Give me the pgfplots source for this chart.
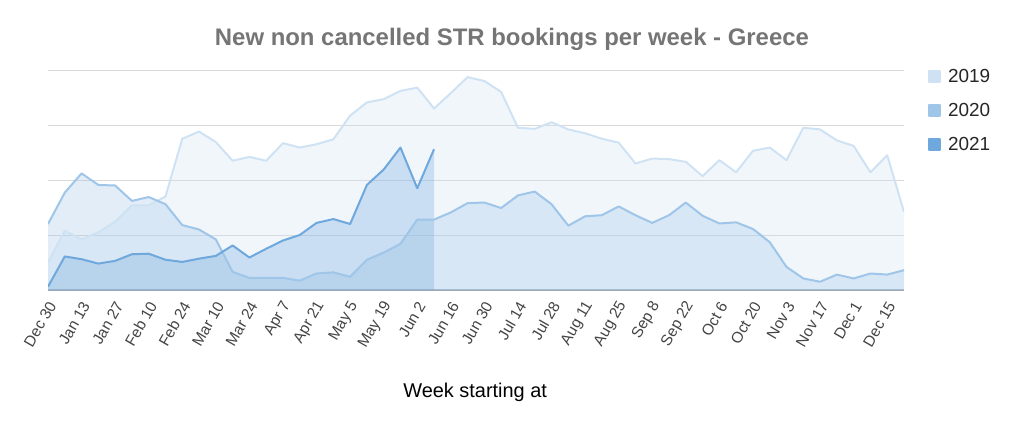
\documentclass[border=0pt]{standalone}
\usepackage{fontspec}
\setmainfont{Liberation Sans}
\usepackage{pgfplots}
\pgfplotsset{compat=1.18}
\usepackage{pgfplotstable}
\definecolor{c2019}{HTML}{CFE2F3}
\definecolor{c2020}{HTML}{9FC5E8}
\definecolor{c2021}{HTML}{6FA8DC}
\definecolor{titlegray}{HTML}{757575}
\definecolor{gridgray}{HTML}{D9D9D9}
\definecolor{basegray}{HTML}{9AA5B1}
\definecolor{ticktext}{HTML}{444444}

\pgfplotstableread{
x y19 y20
0 50 120
1 108 177
2 92 212
3 105 191
4 124 190
5 154 162
6 154 169
7 170 156
8 275 118
9 288 110
10 269 92
11 235 33
12 242 22
13 235 22
14 267 22
15 259 17
16 265 30
17 274 32
18 317 24
19 341 55
20 347 68
21 362 84
22 368 128
23 330 128
24 358 141
25 387 158
26 380 159
27 360 149
28 295 172
29 293 179
30 305 156
31 292 117
32 285 134
33 275 136
34 268 152
35 230 136
36 239 122
37 238 136
38 233 159
39 207 135
40 236 121
41 214 123
42 253 111
43 259 87
44 236 42
45 295 21
46 292 15
47 272 28
48 262 21
49 214 30
50 245 28
51 142 36
}\dataA

\pgfplotstableread{
x y21
0 6
1 61
2 56
3 48
4 53
5 65
6 66
7 55
8 51
9 57
10 62
11 81
12 59
13 75
14 90
15 100
16 122
17 129
18 120
19 191
20 219
21 259
22 185
23 256
}\dataB

\begin{document}
\begin{tikzpicture}
\path[use as bounding box] (-48bp,-133bp) rectangle (976bp,290bp);
\begin{axis}[
  at={(0,0)}, anchor=south west,
  scale only axis, width=856bp, height=220bp,
  xmin=0, xmax=51, ymin=0, ymax=400,
  axis line style={draw=none},
  ytick={100,200,300,400}, yticklabels={},
  extra y ticks={0}, extra y tick labels={},
  extra y tick style={grid style={color=basegray, line width=1.2bp}},
  ymajorgrids, grid style={color=gridgray, line width=1bp},
  major tick length=0,
  xtick={0,2,...,50},
  xticklabels={Dec 30,Jan 13,Jan 27,Feb 10,Feb 24,Mar 10,Mar 24,Apr 7,Apr 21,May 5,May 19,Jun 2,Jun 16,Jun 30,Jul 14,Jul 28,Aug 11,Aug 25,Sep 8,Sep 22,Oct 6,Oct 20,Nov 3,Nov 17,Dec 1,Dec 15},
  xticklabel style={xshift=6bp, yshift=-10bp, rotate=60, anchor=east, font=\fontsize{15.5}{17}\selectfont, text=ticktext},
  title={New non cancelled STR bookings per week - Greece},
  title style={at={(0.542,1)}, anchor=base, yshift=19bp, font=\fontsize{24}{28}\selectfont\bfseries, text=titlegray},
  xlabel={Week starting at},
  xlabel style={at={(0.499,0)}, anchor=base, yshift=-107bp, font=\fontsize{20}{24}\selectfont, text=black},
  legend style={at={(1.0245,1.021)}, anchor=north west, draw=none, fill=none,
    font=\fontsize{19}{22}\selectfont, row sep=15bp, text=black!85,
    /tikz/every odd column/.append style={column sep=5bp}},
  legend cell align=left,
]
\addplot[draw=none, fill=c2019, fill opacity=0.3, forget plot] table[x=x,y=y19]{\dataA} \closedcycle;
\addplot[draw=none, fill=c2020, fill opacity=0.3, forget plot] table[x=x,y=y20]{\dataA} \closedcycle;
\addplot[draw=none, fill=c2021, fill opacity=0.3, forget plot] table[x=x,y=y21]{\dataB} \closedcycle;
\addplot[c2019, line width=2bp, line join=round,
  legend image code/.code={\fill[c2019] (0bp,-5.5bp) rectangle (11bp,5.5bp);}]
  table[x=x,y=y19]{\dataA};
\addlegendentry{2019}
\addplot[c2020, line width=2bp, line join=round,
  legend image code/.code={\fill[c2020] (0bp,-5.5bp) rectangle (11bp,5.5bp);}]
  table[x=x,y=y20]{\dataA};
\addlegendentry{2020}
\addplot[c2021, line width=2bp, line join=round,
  legend image code/.code={\fill[c2021] (0bp,-5.5bp) rectangle (11bp,5.5bp);}]
  table[x=x,y=y21]{\dataB};
\addlegendentry{2021}
\end{axis}
\end{tikzpicture}
\end{document}
